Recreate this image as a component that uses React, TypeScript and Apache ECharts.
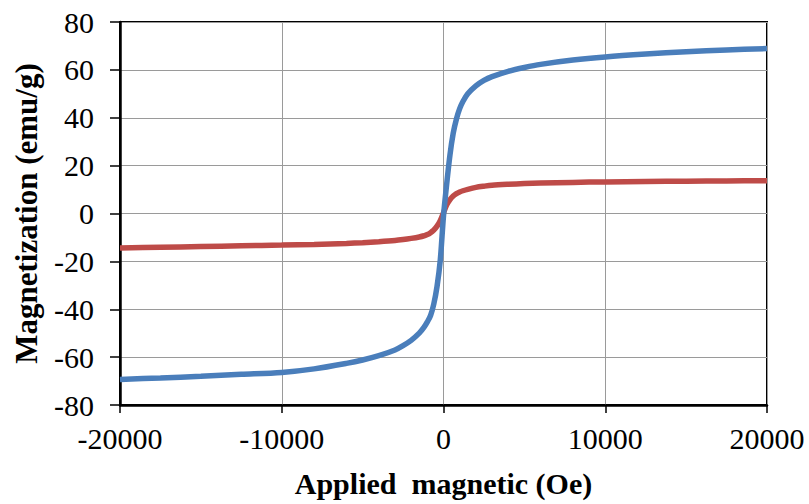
import React, { useEffect, useRef } from "react";
import * as echarts from "echarts";

const fieldOe = [
  -20000, -17500, -15000, -12500, -10000, -8000, -6000, -5000, -4000, -3000, -2500, -2000,
  -1500, -1200, -1000, -800, -600, -400, -200, 0, 200, 400, 600, 800, 1000, 1200, 1500, 2000,
  2500, 3000, 4000, 5000, 6000, 8000, 10000, 12500, 15000, 17500, 20000,
];

const blueSample = [
  -69.3, -68.7, -68.0, -67.2, -66.4, -64.9, -62.6, -61.2, -59.4, -57.0, -55.2, -53.0,
  -50.0, -47.5, -45.3, -42.6, -37.8, -30.5, -19.5, -1.0, 12.5, 24.5, 33.5, 39.5, 43.8, 46.8, 50.0, 53.3,
  55.6, 57.2, 59.4, 61.0, 62.3, 64.1, 65.4, 66.6, 67.6, 68.3, 68.9,
];

const redSample = [
  -14.4, -14.1, -13.8, -13.5, -13.2, -12.9, -12.5, -12.2, -11.8, -11.3, -10.9, -10.4,
  -9.8, -9.3, -8.8, -8.0, -6.9, -5.3, -3.0, 0.3, 3.6, 5.8, 7.3, 8.3, 9.0, 9.5, 10.1, 10.9,
  11.4, 11.8, 12.2, 12.5, 12.7, 13.0, 13.2, 13.4, 13.5, 13.6, 13.7,
];

const xTicks = { min: -20000, max: 20000, interval: 10000 };
const yTicks = { min: -80, max: 80, interval: 20 };

const FONT = "Liberation Serif, Times New Roman, serif";

export default function App() {
  const ref = useRef<HTMLDivElement>(null);

  useEffect(() => {
    if (!ref.current) return;
    const chart = echarts.init(ref.current, undefined, { renderer: "svg" });
    const blueData = fieldOe.map((x, i) => [x, blueSample[i]]);
    const redData = fieldOe.map((x, i) => [x, redSample[i]]);
    chart.setOption({
      animation: false,
      backgroundColor: "#ffffff",
      textStyle: { fontFamily: FONT },
      grid: {
        left: 120,
        right: 42,
        top: 22,
        bottom: 99,
        outerBoundsMode: "none",
        containLabel: false,
        show: true,
        borderColor: "#000000",
        borderWidth: 2,
        backgroundColor: "transparent",
      },
      xAxis: {
        type: "value",
        min: xTicks.min,
        max: xTicks.max,
        interval: xTicks.interval,
        name: "Applied  magnetic (Oe)",
        nameLocation: "middle",
        nameGap: 63,
        nameTextStyle: {
          fontFamily: FONT,
          fontWeight: "bold",
          fontSize: 30,
          color: "#000000",
        },
        axisLine: { show: true, onZero: false, lineStyle: { color: "#000000", width: 2.5 } },
        axisTick: { show: true, inside: false, length: 8, lineStyle: { color: "#000000", width: 1.5 } },
        axisLabel: {
          margin: 18,
          fontFamily: FONT,
          fontSize: 30,
          color: "#000000",
          formatter: (v: number) => String(v),
        },
        splitLine: { show: true, lineStyle: { color: "#9a9a9a", width: 1 } },
      },
      yAxis: {
        type: "value",
        min: yTicks.min,
        max: yTicks.max,
        interval: yTicks.interval,
        name: "Magnetization (emu/g)",
        nameLocation: "middle",
        nameGap: 78,
        nameRotate: 90,
        nameTextStyle: {
          fontFamily: FONT,
          fontWeight: "bold",
          fontSize: 31,
          color: "#000000",
        },
        axisLine: { show: true, onZero: false, lineStyle: { color: "#000000", width: 2.5 } },
        axisTick: { show: true, inside: false, length: 10, lineStyle: { color: "#000000", width: 1.5 } },
        axisLabel: {
          margin: 26,
          fontFamily: FONT,
          fontSize: 30,
          color: "#000000",
          formatter: (v: number) => String(v),
        },
        splitLine: { show: true, lineStyle: { color: "#9a9a9a", width: 1 } },
      },
      series: [
        {
          type: "line",
          data: redData,
          smooth: 0.3,
          showSymbol: false,
          lineStyle: { color: "#be4b48", width: 5.5 },
          z: 2,
        },
        {
          type: "line",
          data: blueData,
          smooth: 0.3,
          showSymbol: false,
          lineStyle: { color: "#4a7ebb", width: 5.5 },
          z: 3,
        },
      ],
    });
    return () => chart.dispose();
  }, []);

  return (
    <div
      ref={ref}
      style={{ position: "absolute", left: 0, top: 0, width: 809, height: 504, background: "#fff" }}
    />
  );
}
